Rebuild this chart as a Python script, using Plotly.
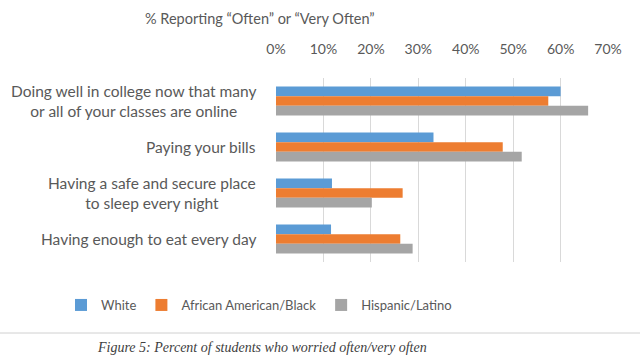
import plotly.graph_objects as go

categories = [
    "Doing well in college now that many<br>or all of your classes are online",
    "Paying your bills",
    "Having a safe and secure place<br>to sleep every night",
    "Having enough to eat every day",
]
white = [60.0, 33.2, 11.8, 11.6]
black = [57.4, 47.8, 26.7, 26.2]
hispanic = [65.8, 51.8, 20.2, 28.8]
series_names = ["White", "African American/Black", "Hispanic/Latino"]
colors = ["#5B9BD5", "#ED7D31", "#A5A5A5"]
tick_vals = [0, 10, 20, 30, 40, 50, 60, 70]
tick_text = [f"{v}%" for v in tick_vals]

L, R, T, B = 276, 31, 78, 98
W, H = 640, 360
pw = W - L - R
ph = H - T - B

def px(p):
    return (p - L) / pw

def py(p):
    return (H - B - p) / ph

fig = go.Figure()
for name, vals, c in zip(series_names, [white, black, hispanic], colors):
    fig.add_trace(go.Bar(y=categories, x=vals, name=name, orientation="h",
                         marker=dict(color=c, line=dict(width=0))))

font_fam = "Lato, 'Open Sans', sans-serif"
gray = "#595959"
fig.update_layout(
    width=W, height=H,
    margin=dict(l=L, r=R, t=T, b=B, pad=0, autoexpand=False),
    paper_bgcolor="white", plot_bgcolor="white",
    barmode="group", bargap=0.37, bargroupgap=0,
    font=dict(family=font_fam, color=gray, size=15),
    xaxis=dict(side="top", range=[0, 70.2], tickmode="array", tickvals=tick_vals,
               ticktext=tick_text,
               showgrid=True, gridcolor="#D9D9D9", gridwidth=1, zeroline=False,
               showline=False, ticks="", ticklabelstandoff=20,
               tickfont=dict(size=14, color=gray)),
    yaxis=dict(autorange="reversed", showgrid=False, showline=False, ticks="",
               showticklabels=False),
    legend=dict(orientation="h", xref="paper", yref="paper",
                x=px(61), xanchor="left", y=py(305), yanchor="middle",
                font=dict(size=13, color=gray), tracegroupgap=0, itemwidth=30),
    showlegend=True,
)
for cat in categories:
    fig.add_annotation(text=cat, xref="paper", yref="y", x=px(258),
                       y=cat, xanchor="right", yanchor="middle", align="center",
                       showarrow=False, font=dict(size=15.5, color=gray, family=font_fam))
fig.add_annotation(text="% Reporting \u201cOften\u201d or \u201cVery Often\u201d",
                   xref="paper", yref="paper", x=px(260), y=py(18),
                   xanchor="center", yanchor="middle", showarrow=False,
                   font=dict(size=14.5, color=gray, family=font_fam))
fig.add_shape(type="line", xref="paper", yref="paper",
              x0=px(0), x1=px(W), y0=py(333), y1=py(333),
              line=dict(color="#D0D0D0", width=1))
fig.add_annotation(text="<i>Figure 5: Percent of students who worried often/very often</i>",
                   xref="paper", yref="paper", x=px(262), y=py(347),
                   xanchor="center", yanchor="middle", showarrow=False,
                   font=dict(size=14, color="#404040", family="'Liberation Serif', serif"))

fig.write_html("out.html", config={"displayModeBar": False},
               post_script="document.body.style.margin='0';")
